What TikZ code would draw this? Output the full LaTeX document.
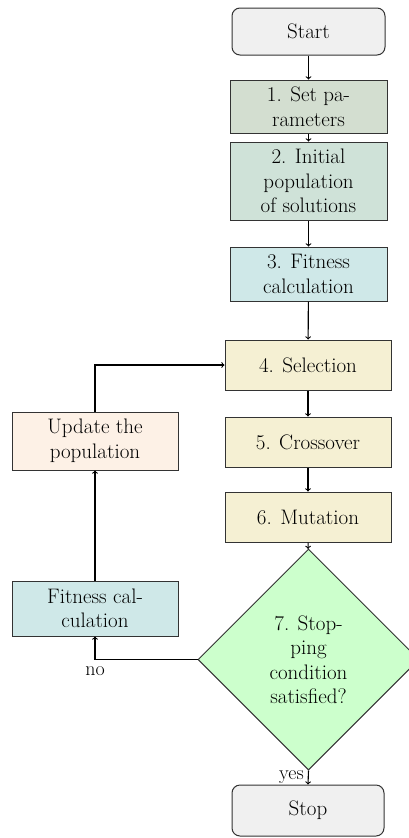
\documentclass[tikz,border=0pt]{standalone}
\usetikzlibrary{shapes.geometric,positioning}
\definecolor{cstart}{HTML}{F0F0F0}
\definecolor{cone}{HTML}{D3DED0}
\definecolor{ctwo}{HTML}{CFE2D8}
\definecolor{cthree}{HTML}{CFE8E8}
\definecolor{cfour}{HTML}{F5F0D3}
\definecolor{cupd}{HTML}{FDF1E6}
\definecolor{cdia}{HTML}{CCFFCC}
\definecolor{cline}{HTML}{333333}
\begin{document}
\begin{tikzpicture}[x=1pt,y=-1pt,
  every node/.style={font=\fontsize{21}{24.5}\selectfont},
  boxbase/.style={draw=cline,line width=1pt,align=center,inner sep=0pt},
  term/.style={boxbase,rounded corners=8pt,fill=cstart,minimum width=153pt},
  procbox/.style={boxbase,minimum width=157pt},
  loopbox/.style={boxbase,minimum width=166pt},
  decision/.style={boxbase,diamond,aspect=1,minimum size=221pt,fill=cdia},
  conn/.style={->,line width=1.1pt,black},
  lbl/.style={font=\fontsize{20}{22}\selectfont,inner sep=2pt}]
\useasboundingbox (0,0) rectangle (409,838);
\node[term,minimum height=47pt] (start) at (308.5,31.5) {Start};
\node[procbox,fill=cone,minimum height=53pt] (b1) at (308.5,106.5) {1. Set pa-\\rameters};
\node[procbox,fill=ctwo,minimum height=78pt] (b2) at (308.5,181) {2. Initial\\population\\of solutions};
\node[procbox,fill=cthree,minimum height=54pt] (b3) at (308.5,274) {3. Fitness\\calculation};
\node[loopbox,fill=cfour,minimum height=50pt] (b4) at (308,365) {4. Selection};
\node[loopbox,fill=cfour,minimum height=50pt] (b5) at (308,442) {5. Crossover};
\node[loopbox,fill=cfour,minimum height=50pt] (b6) at (308,517) {6. Mutation};
\node[loopbox,fill=cupd,minimum height=58pt] (upd) at (95,441) {Update the\\population};
\node[loopbox,fill=cthree,minimum height=55pt] (fit) at (95,608.5) {Fitness cal-\\culation};
\node[decision] (dia) at (308.5,659.5) {7. Stop-\\ping\\condition\\satisfied?};
\node[term,minimum width=152pt,minimum height=51pt] (stop) at (308,810.5) {Stop};
\draw[conn] (start) -- (b1);
\draw[conn] (b1) -- (b2);
\draw[conn] (b2) -- (b3);
\draw[conn] (b3) -- (b4);
\draw[conn] (b4) -- (b5);
\draw[conn] (b5) -- (b6);
\draw[conn] (b6) -- (dia);
\draw[conn] (dia.south) -- node[lbl,pos=0.45,left,xshift=-2pt] {yes} (stop.north);
\draw[conn] (dia.west) -| node[lbl,pos=0.5,below,yshift=-5pt] {no} (fit.south);
\draw[conn] (fit) -- (upd);
\draw[conn] (upd.north) |- (b4.west);
\end{tikzpicture}
\end{document}
